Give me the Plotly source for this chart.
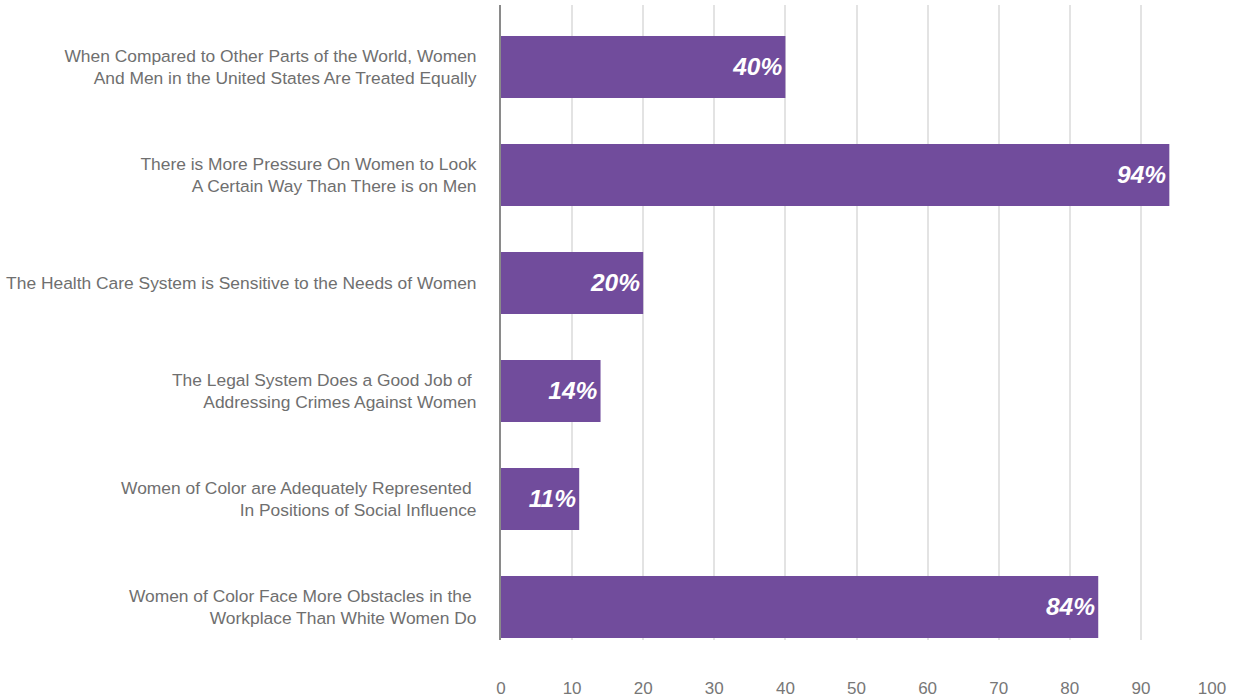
import plotly.graph_objects as go

statements = [
    "When Compared to Other Parts of the World, Women<br>And Men in the United States Are Treated Equally",
    "There is More Pressure On Women to Look<br>A Certain Way Than There is on Men",
    "The Health Care System is Sensitive to the Needs of Women",
    "The Legal System Does a Good Job of <br>Addressing Crimes Against Women",
    "Women of Color are Adequately Represented <br>In Positions of Social Influence",
    "Women of Color Face More Obstacles in the <br>Workplace Than White Women Do",
]
agree_pct = [40, 94, 20, 14, 11, 84]
x_ticks = [0, 10, 20, 30, 40, 50, 60, 70, 80, 90, 100]

fig = go.Figure(
    go.Bar(
        x=agree_pct,
        y=list(range(len(statements))),
        orientation="h",
        width=0.575,
        marker=dict(color="#714c9c", line=dict(width=0)),
        text=[f"{v}%" for v in agree_pct],
        textposition="inside",
        insidetextanchor="end",
        textangle=0,
        textfont=dict(family="Liberation Sans, Arial, sans-serif", size=24.5,
                      color="white", weight="bold", style="italic"),
        cliponaxis=False,
        hoverinfo="skip",
    )
)

fig.update_layout(
    width=1237,
    height=698,
    margin=dict(l=501, r=25, t=5, b=58),
    paper_bgcolor="white",
    plot_bgcolor="white",
    showlegend=False,
    font=dict(family="Liberation Sans, Arial, sans-serif", color="#6f6f6f"),
    xaxis=dict(
        range=[0, 100],
        tickvals=x_ticks,
        ticktext=[str(t) for t in x_ticks],
        showgrid=True,
        gridcolor="#e3e3e3",
        gridwidth=1.5,
        zeroline=False,
        showline=False,
        ticks="",
        automargin=False,
        ticklabelstandoff=36,
        tickfont=dict(size=17, color="#777777"),
    ),
    yaxis=dict(
        range=[5.306, -0.574],
        tickvals=list(range(len(statements))),
        ticktext=statements,
        showgrid=False,
        zeroline=False,
        showline=True,
        linecolor="#8a8a8a",
        linewidth=2,
        ticks="",
        automargin=False,
        ticklabelstandoff=19,
        tickfont=dict(size=17.4, color="#6f6f6f"),
    ),
)

fig.write_html("out.html")
